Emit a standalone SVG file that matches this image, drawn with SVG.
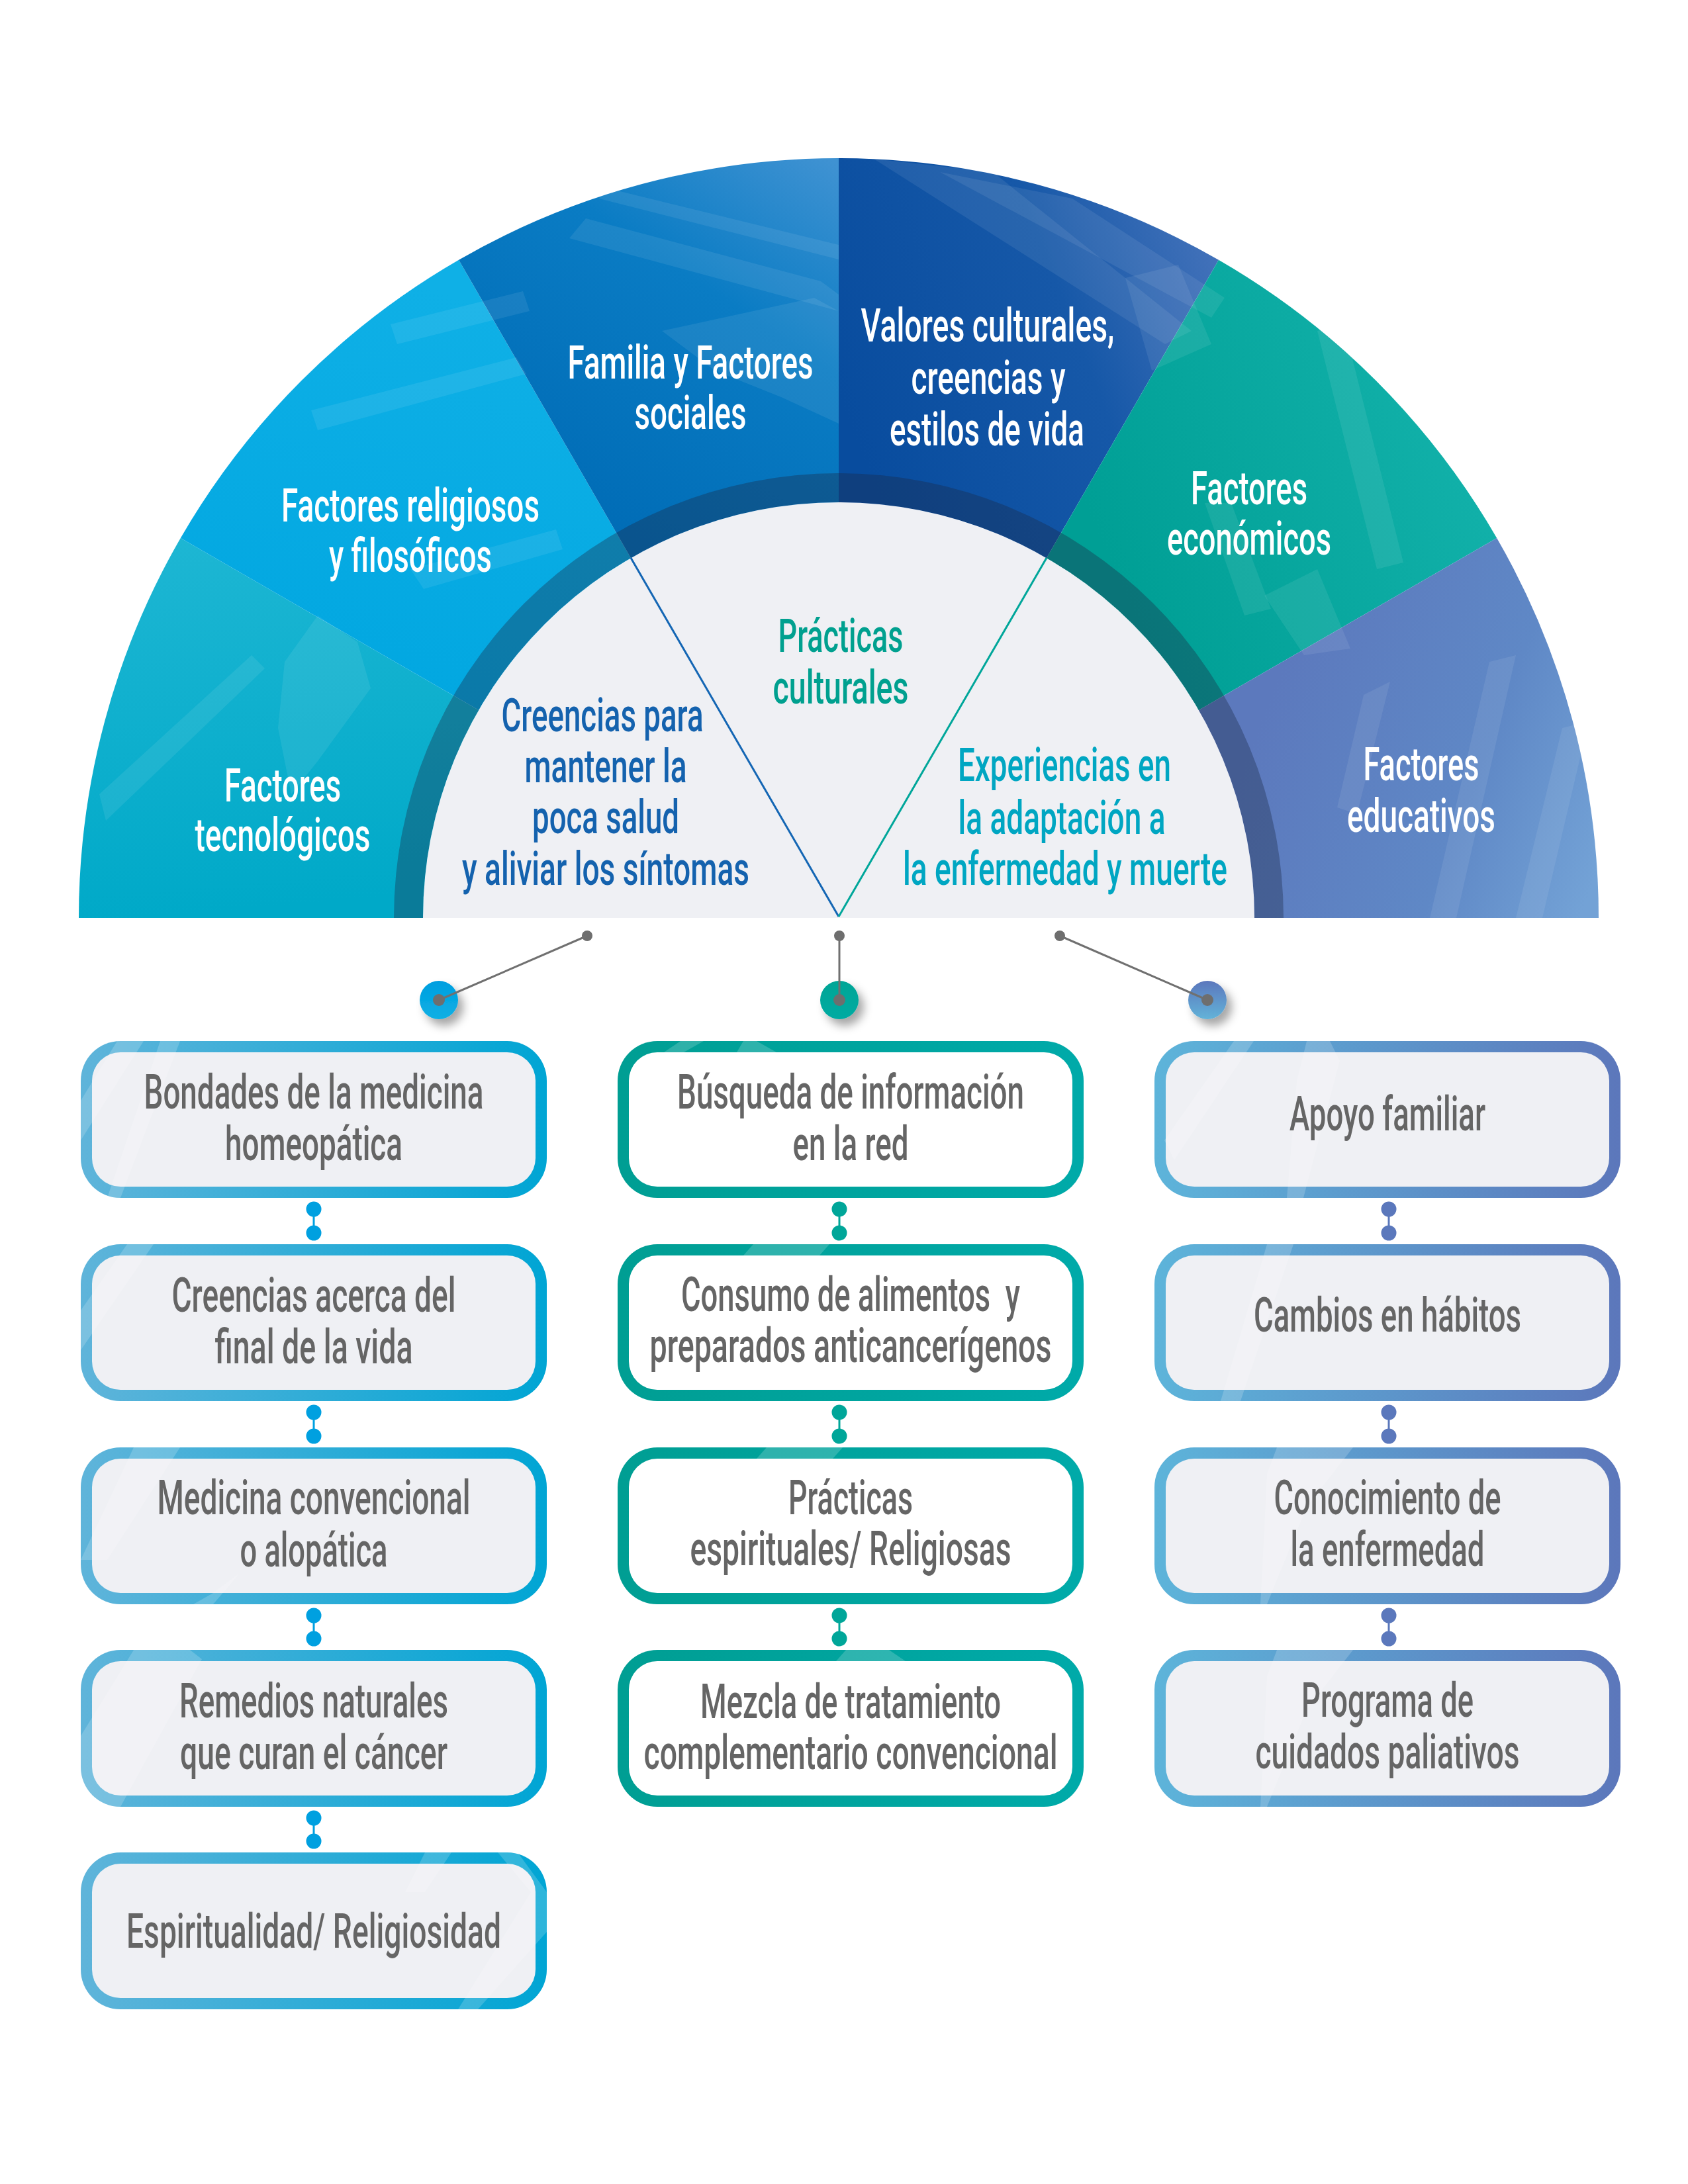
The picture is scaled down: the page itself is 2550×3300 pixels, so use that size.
<svg xmlns="http://www.w3.org/2000/svg" width="2550" height="3300" viewBox="0 0 2550 3300">
<defs>
<style>
.t{font-family:Roboto,"Liberation Sans",Arial,sans-serif;text-anchor:middle;font-weight:500}
.w{fill:#ffffff;font-size:70px}
.b{fill:#656565;font-size:72px}
.ib{fill:#1462ae;font-size:70px}
.it{fill:#00a08f;font-size:70px}
.ic{fill:#00a6c2;font-size:70px}
.gl{stroke:#707070;stroke-width:3;fill:none}
.gd{fill:#6e6e6e}
.band{fill:#ffffff;opacity:0.08}
.bband{fill:#ffffff;opacity:0.18}
</style>
<linearGradient id="gTec" gradientUnits="userSpaceOnUse" x1="300" y1="1380" x2="250" y2="820"><stop offset="0" stop-color="#00a9c8"/><stop offset="1" stop-color="#1db6d3"/></linearGradient>
<linearGradient id="gRel" gradientUnits="userSpaceOnUse" x1="500" y1="1100" x2="700" y2="450"><stop offset="0" stop-color="#00a6e0"/><stop offset="1" stop-color="#0fb0e6"/></linearGradient>
<linearGradient id="gFam" gradientUnits="userSpaceOnUse" x1="900" y1="800" x2="1267" y2="250"><stop offset="0" stop-color="#006cb6"/><stop offset="0.6" stop-color="#0a7cc4"/><stop offset="1" stop-color="#3f92d2"/></linearGradient>
<linearGradient id="gVal" gradientUnits="userSpaceOnUse" x1="1267" y1="600" x2="1840" y2="380"><stop offset="0" stop-color="#084c9e"/><stop offset="0.6" stop-color="#1658a8"/><stop offset="1" stop-color="#4372ba"/></linearGradient>
<linearGradient id="gEco" gradientUnits="userSpaceOnUse" x1="1700" y1="900" x2="2250" y2="650"><stop offset="0" stop-color="#009f95"/><stop offset="1" stop-color="#13b2ab"/></linearGradient>
<linearGradient id="gEdu" gradientUnits="userSpaceOnUse" x1="1900" y1="1100" x2="2420" y2="1300"><stop offset="0" stop-color="#5c79bd"/><stop offset="0.6" stop-color="#5f88c6"/><stop offset="1" stop-color="#73a2d6"/></linearGradient>
<linearGradient id="bxL" x1="0" y1="0" x2="1" y2="0"><stop offset="0" stop-color="#5fb4da"/><stop offset="1" stop-color="#00a5d4"/></linearGradient>
<linearGradient id="bxM" x1="0" y1="0" x2="1" y2="0"><stop offset="0" stop-color="#009e93"/><stop offset="1" stop-color="#00aaa9"/></linearGradient>
<linearGradient id="bxR" x1="0" y1="0" x2="1" y2="0"><stop offset="0" stop-color="#5db4da"/><stop offset="1" stop-color="#5c77bb"/></linearGradient>
<linearGradient id="cL" x1="0" y1="0" x2="0" y2="1"><stop offset="0" stop-color="#009ee0"/><stop offset="1" stop-color="#0cb0e4"/></linearGradient>
<linearGradient id="cM" x1="0" y1="0" x2="0" y2="1"><stop offset="0" stop-color="#00a596"/><stop offset="1" stop-color="#00aba2"/></linearGradient>
<linearGradient id="cR" x1="0" y1="0" x2="0" y2="1"><stop offset="0" stop-color="#5b77bc"/><stop offset="1" stop-color="#63b3d9"/></linearGradient>
<clipPath id="semi"><path d="M119,1387 A1148,1148 0 0 1 2415,1387 Z"/></clipPath>
<clipPath id="box"><rect x="0" y="0" width="704" height="237" rx="60" ry="60"/></clipPath>
<filter id="sh" x="-60%" y="-60%" width="220%" height="220%"><feDropShadow dx="8" dy="10" stdDeviation="7" flood-color="#000000" flood-opacity="0.35"/></filter>
</defs>
<rect x="0" y="0" width="2550" height="3300" fill="#ffffff"/>

<g id="semicircle">
<g id="sector-tecnologicos"><path d="M1267,1387 L119,1387 A1148,1148 0 0 1 272.8,813 Z" fill="url(#gTec)"/></g>
<g id="sector-religiosos"><path d="M1267,1387 L272.8,813 A1148,1148 0 0 1 693,392.8 Z" fill="url(#gRel)"/></g>
<g id="sector-familia"><path d="M1267,1387 L693,392.8 A1148,1148 0 0 1 1267,239 Z" fill="url(#gFam)"/></g>
<g id="sector-valores"><path d="M1267,1387 L1267,239 A1148,1148 0 0 1 1841,392.8 Z" fill="url(#gVal)"/></g>
<g id="sector-economicos"><path d="M1267,1387 L1841,392.8 A1148,1148 0 0 1 2261.2,813 Z" fill="url(#gEco)"/></g>
<g id="sector-educativos"><path d="M1267,1387 L2261.2,813 A1148,1148 0 0 1 2415,1387 Z" fill="url(#gEdu)"/></g>
<g id="watermark" clip-path="url(#semi)">
<polygon class="band" points="920,285 1267,370 1267,392 905,300"/>
<polygon class="band" points="885,330 1240,425 1267,445 1267,470 860,360"/>
<polygon class="band" points="1000,500 1230,450 1267,470 1267,640 1180,600 1080,560"/>
<polygon class="band" points="590,490 790,440 800,470 600,520"/>
<polygon class="band" points="470,620 780,540 795,565 480,650"/>
<polygon class="band" points="620,860 840,800 850,830 640,890"/>
<polygon class="band" points="150,1200 380,990 400,1010 160,1240"/>
<polygon class="band" points="430,1000 480,930 540,970 560,1040 480,1150 440,1200 420,1100"/>
<polygon class="band" points="1320,240 1500,260 1800,500 1760,520"/>
<polygon class="band" points="1420,260 1620,300 1850,450 1830,480"/>
<polygon class="band" points="1700,420 1780,400 1830,520 1740,560"/>
<polygon class="band" points="1990,500 2030,490 2120,850 2080,860"/>
<polygon class="band" points="1820,760 1860,760 1920,920 1880,930"/>
<polygon class="band" points="1910,900 1990,860 2040,980 1970,990"/>
<polygon class="band" points="2060,1050 2100,1030 2050,1230 2020,1220"/>
<polygon class="band" points="2250,1000 2290,990 2200,1387 2160,1387"/>
<polygon class="band" points="2360,1100 2400,1090 2330,1387 2290,1387"/>
</g>
<path id="ring" d="M595,1387 A672,672 0 0 1 1939,1387 L1895,1387 A628,628 0 0 0 639,1387 Z" fill="#1c2a45" opacity="0.36"/>
<path id="inner" d="M639,1387 A628,628 0 0 1 1895,1387 Z" fill="#eff0f4"/>
<line x1="1267" y1="1385" x2="953" y2="843" stroke="#1466b4" stroke-width="3"/>
<line x1="1267" y1="1385" x2="1581" y2="843" stroke="#00a69a" stroke-width="3"/>

<g id="label-tecnologicos" class="t w">
<text x="427" y="1211" textLength="176" lengthAdjust="spacingAndGlyphs">Factores</text>
<text x="427" y="1286" textLength="265" lengthAdjust="spacingAndGlyphs">tecnológicos</text>
</g>
<g id="label-religiosos" class="t w">
<text x="620" y="788" textLength="390" lengthAdjust="spacingAndGlyphs">Factores religiosos</text>
<text x="620" y="864" textLength="246" lengthAdjust="spacingAndGlyphs">y filosóficos</text>
</g>
<g id="label-familia" class="t w">
<text x="1043" y="572" textLength="371" lengthAdjust="spacingAndGlyphs">Familia y Factores</text>
<text x="1043" y="648" textLength="169" lengthAdjust="spacingAndGlyphs">sociales</text>
</g>
<g id="label-valores" class="t w">
<text x="1492" y="516" textLength="383" lengthAdjust="spacingAndGlyphs">Valores culturales,</text>
<text x="1493" y="595" textLength="233" lengthAdjust="spacingAndGlyphs">creencias y</text>
<text x="1491" y="673" textLength="294" lengthAdjust="spacingAndGlyphs">estilos de vida</text>
</g>
<g id="label-economicos" class="t w">
<text x="1887" y="762" textLength="176" lengthAdjust="spacingAndGlyphs">Factores</text>
<text x="1887" y="838" textLength="248" lengthAdjust="spacingAndGlyphs">económicos</text>
</g>
<g id="label-educativos" class="t w">
<text x="2147" y="1179" textLength="175" lengthAdjust="spacingAndGlyphs">Factores</text>
<text x="2147" y="1257" textLength="224" lengthAdjust="spacingAndGlyphs">educativos</text>
</g>
<g id="label-creencias" class="t ib">
<text x="910" y="1105" textLength="305" lengthAdjust="spacingAndGlyphs">Creencias para</text>
<text x="915" y="1182" textLength="245" lengthAdjust="spacingAndGlyphs">mantener la</text>
<text x="915" y="1259" textLength="222" lengthAdjust="spacingAndGlyphs">poca salud</text>
<text x="915" y="1337" textLength="434" lengthAdjust="spacingAndGlyphs">y aliviar los síntomas</text>
</g>
<g id="label-practicas" class="t it">
<text x="1270" y="985" textLength="189" lengthAdjust="spacingAndGlyphs">Prácticas</text>
<text x="1270" y="1063" textLength="205" lengthAdjust="spacingAndGlyphs">culturales</text>
</g>
<g id="label-experiencias" class="t ic">
<text x="1608" y="1180" textLength="322" lengthAdjust="spacingAndGlyphs">Experiencias en</text>
<text x="1604" y="1260" textLength="313" lengthAdjust="spacingAndGlyphs">la adaptación a</text>
<text x="1609" y="1337" textLength="490" lengthAdjust="spacingAndGlyphs">la enfermedad y muerte</text>
</g>
</g>

<g id="connectors">
<circle class="gd" cx="887" cy="1414" r="8"/>
<circle class="gd" cx="1268" cy="1414" r="8"/>
<circle class="gd" cx="1601" cy="1414" r="8"/>
<circle cx="663" cy="1511" r="29" fill="url(#cL)" filter="url(#sh)"/>
<circle cx="1268" cy="1511" r="29" fill="url(#cM)" filter="url(#sh)"/>
<circle cx="1824" cy="1511" r="29" fill="url(#cR)" filter="url(#sh)"/>
<line class="gl" x1="887" y1="1414" x2="663" y2="1511"/>
<line class="gl" x1="1268" y1="1414" x2="1268" y2="1511"/>
<line class="gl" x1="1601" y1="1414" x2="1824" y2="1511"/>
<circle class="gd" cx="663" cy="1511" r="9"/>
<circle class="gd" cx="1268" cy="1511" r="9"/>
<circle class="gd" cx="1824" cy="1511" r="9"/>
<g fill="#00a0e0" stroke="#00a0e0" stroke-width="3">
<line x1="474" y1="1827" x2="474" y2="1863"/><circle cx="474" cy="1827" r="10"/><circle cx="474" cy="1863" r="10"/>
<line x1="474" y1="2134" x2="474" y2="2170"/><circle cx="474" cy="2134" r="10"/><circle cx="474" cy="2170" r="10"/>
<line x1="474" y1="2441" x2="474" y2="2476"/><circle cx="474" cy="2441" r="10"/><circle cx="474" cy="2476" r="10"/>
<line x1="474" y1="2747" x2="474" y2="2782"/><circle cx="474" cy="2747" r="10"/><circle cx="474" cy="2782" r="10"/>
</g>
<g fill="#00a699" stroke="#00a699" stroke-width="3">
<line x1="1268" y1="1827" x2="1268" y2="1863"/><circle cx="1268" cy="1827" r="10"/><circle cx="1268" cy="1863" r="10"/>
<line x1="1268" y1="2134" x2="1268" y2="2170"/><circle cx="1268" cy="2134" r="10"/><circle cx="1268" cy="2170" r="10"/>
<line x1="1268" y1="2441" x2="1268" y2="2476"/><circle cx="1268" cy="2441" r="10"/><circle cx="1268" cy="2476" r="10"/>
</g>
<g fill="#5b78bc" stroke="#5b78bc" stroke-width="3">
<line x1="2098" y1="1827" x2="2098" y2="1863"/><circle cx="2098" cy="1827" r="10"/><circle cx="2098" cy="1863" r="10"/>
<line x1="2098" y1="2134" x2="2098" y2="2170"/><circle cx="2098" cy="2134" r="10"/><circle cx="2098" cy="2170" r="10"/>
<line x1="2098" y1="2441" x2="2098" y2="2476"/><circle cx="2098" cy="2441" r="10"/><circle cx="2098" cy="2476" r="10"/>
</g>
</g>

<!-- Left column -->
<g id="box-L1" transform="translate(122,1573)">
<rect width="704" height="237" rx="60" fill="url(#bxL)"/><rect x="17" y="17" width="670" height="203" rx="43" fill="#eff0f4"/>
<g clip-path="url(#box)"><polygon class="bband" points="55,0 95,0 0,150 0,90"/><polygon class="bband" points="120,0 150,0 60,237 40,237"/></g>
<g class="t b"><text x="352" y="102" textLength="513" lengthAdjust="spacingAndGlyphs">Bondades de la medicina</text><text x="352" y="180" textLength="268" lengthAdjust="spacingAndGlyphs">homeopática</text></g>
</g>
<g id="box-L2" transform="translate(122,1880)">
<rect width="704" height="237" rx="60" fill="url(#bxL)"/><rect x="17" y="17" width="670" height="203" rx="43" fill="#eff0f4"/>
<g clip-path="url(#box)"><polygon class="bband" points="70,0 110,0 0,160 0,100"/></g>
<g class="t b"><text x="352" y="102" textLength="429" lengthAdjust="spacingAndGlyphs">Creencias acerca del</text><text x="352" y="180" textLength="299" lengthAdjust="spacingAndGlyphs">final de la vida</text></g>
</g>
<g id="box-L3" transform="translate(122,2187)">
<rect width="704" height="237" rx="60" fill="url(#bxL)"/><rect x="17" y="17" width="670" height="203" rx="43" fill="#eff0f4"/>
<g clip-path="url(#box)"><polygon class="bband" points="80,0 150,0 40,170 0,170"/><polygon class="bband" points="200,220 240,190 200,237 170,237"/></g>
<g class="t b"><text x="352" y="101" textLength="473" lengthAdjust="spacingAndGlyphs">Medicina convencional</text><text x="352" y="180" textLength="223" lengthAdjust="spacingAndGlyphs">o alopática</text></g>
</g>
<g id="box-L4" transform="translate(122,2493)">
<rect width="704" height="237" rx="60" fill="url(#bxL)"/><rect x="17" y="17" width="670" height="203" rx="43" fill="#eff0f4"/>
<g clip-path="url(#box)"><polygon class="bband" points="80,0 165,0 183,14 60,237 0,237 0,130"/></g>
<g class="t b"><text x="352" y="102" textLength="406" lengthAdjust="spacingAndGlyphs">Remedios naturales</text><text x="352" y="180" textLength="404" lengthAdjust="spacingAndGlyphs">que curan el cáncer</text></g>
</g>
<g id="box-L5" transform="translate(122,2799)">
<rect width="704" height="237" rx="60" fill="url(#bxL)"/><rect x="17" y="17" width="670" height="203" rx="43" fill="#eff0f4"/>
<g clip-path="url(#box)"><polygon class="bband" points="520,0 560,0 520,60 490,60"/><polygon class="bband" points="630,0 660,0 704,60 704,120 600,237 570,237 680,60"/></g>
<g class="t b"><text x="352" y="144" textLength="566" lengthAdjust="spacingAndGlyphs">Espiritualidad/ Religiosidad</text></g>
</g>

<!-- Middle column -->
<g id="box-M1" transform="translate(933,1573)">
<rect width="704" height="237" rx="60" fill="url(#bxM)"/><rect x="17" y="17" width="670" height="203" rx="43" fill="#ffffff"/>
<g clip-path="url(#box)"><polygon class="bband" points="95,0 130,0 100,17 70,17"/><polygon class="bband" points="190,0 210,0 240,17 180,17"/></g>
<g class="t b"><text x="352" y="102" textLength="524" lengthAdjust="spacingAndGlyphs">Búsqueda de información</text><text x="352" y="180" textLength="175" lengthAdjust="spacingAndGlyphs">en la red</text></g>
</g>
<g id="box-M2" transform="translate(933,1880)">
<rect width="704" height="237" rx="60" fill="url(#bxM)"/><rect x="17" y="17" width="670" height="203" rx="43" fill="#ffffff"/>
<g clip-path="url(#box)"><polygon class="bband" points="205,0 320,0 305,17 190,17"/></g>
<g class="t b"><text x="352" y="101" textLength="512" lengthAdjust="spacingAndGlyphs">Consumo de alimentos&#160; y</text><text x="352" y="178" textLength="607" lengthAdjust="spacingAndGlyphs">preparados anticancerígenos</text></g>
</g>
<g id="box-M3" transform="translate(933,2187)">
<rect width="704" height="237" rx="60" fill="url(#bxM)"/><rect x="17" y="17" width="670" height="203" rx="43" fill="#ffffff"/>
<g clip-path="url(#box)"><polygon class="bband" points="225,0 340,0 325,17 210,17"/></g>
<g class="t b"><text x="352" y="101" textLength="188" lengthAdjust="spacingAndGlyphs">Prácticas</text><text x="352" y="178" textLength="485" lengthAdjust="spacingAndGlyphs">espirituales/ Religiosas</text></g>
</g>
<g id="box-M4" transform="translate(933,2493)">
<rect width="704" height="237" rx="60" fill="url(#bxM)"/><rect x="17" y="17" width="670" height="203" rx="43" fill="#ffffff"/>
<g clip-path="url(#box)"><polygon class="bband" points="345,0 410,0 435,17 330,17"/></g>
<g class="t b"><text x="352" y="103" textLength="454" lengthAdjust="spacingAndGlyphs">Mezcla de tratamiento</text><text x="352" y="180" textLength="625" lengthAdjust="spacingAndGlyphs">complementario convencional</text></g>
</g>

<!-- Right column -->
<g id="box-R1" transform="translate(1744,1573)">
<rect width="704" height="237" rx="60" fill="url(#bxR)"/><rect x="17" y="17" width="670" height="203" rx="43" fill="#eff0f4"/>
<g clip-path="url(#box)"><polygon class="bband" points="120,0 150,0 30,180 15,150"/><polygon class="bband" points="230,0 265,0 280,30 225,237 200,237 215,60"/></g>
<g class="t b"><text x="352" y="135" textLength="296" lengthAdjust="spacingAndGlyphs">Apoyo familiar</text></g>
</g>
<g id="box-R2" transform="translate(1744,1880)">
<rect width="704" height="237" rx="60" fill="url(#bxR)"/><rect x="17" y="17" width="670" height="203" rx="43" fill="#eff0f4"/>
<g clip-path="url(#box)"><polygon class="bband" points="170,0 210,0 130,237 100,237"/></g>
<g class="t b"><text x="352" y="132" textLength="404" lengthAdjust="spacingAndGlyphs">Cambios en hábitos</text></g>
</g>
<g id="box-R3" transform="translate(1744,2187)">
<rect width="704" height="237" rx="60" fill="url(#bxR)"/><rect x="17" y="17" width="670" height="203" rx="43" fill="#eff0f4"/>
<g clip-path="url(#box)"><polygon class="bband" points="185,0 300,0 230,90 170,237 160,237 170,40"/></g>
<g class="t b"><text x="352" y="101" textLength="343" lengthAdjust="spacingAndGlyphs">Conocimiento de</text><text x="352" y="179" textLength="293" lengthAdjust="spacingAndGlyphs">la enfermedad</text></g>
</g>
<g id="box-R4" transform="translate(1744,2493)">
<rect width="704" height="237" rx="60" fill="url(#bxR)"/><rect x="17" y="17" width="670" height="203" rx="43" fill="#eff0f4"/>
<g clip-path="url(#box)"><polygon class="bband" points="185,0 300,0 230,90 170,237 160,237 170,40"/></g>
<g class="t b"><text x="352" y="101" textLength="260" lengthAdjust="spacingAndGlyphs">Programa de</text><text x="352" y="179" textLength="399" lengthAdjust="spacingAndGlyphs">cuidados paliativos</text></g>
</g>
</svg>
